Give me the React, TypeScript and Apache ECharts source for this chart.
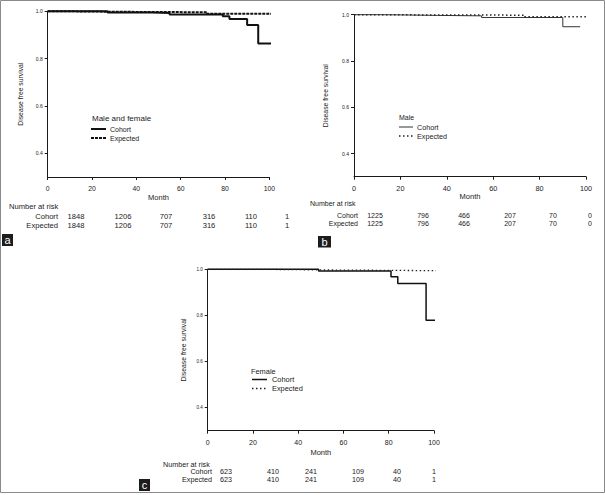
import React, { useEffect, useRef } from "react";
import * as echarts from "echarts";

// ---------- data ----------
const xTicks = [0, 20, 40, 60, 80, 100];
const yTicks = [0.4, 0.6, 0.8, 1.0];

const cohortA = [[0, 1], [27, 0.995], [47, 0.993], [55, 0.986], [79, 0.979], [82, 0.967], [90, 0.942], [95, 0.864], [101, 0.864]];
const expectedA = [[0, 1], [10, 0.998], [30, 0.997], [50, 0.996], [72, 0.99], [101, 0.99]];

const cohortB = [[0, 1], [10, 0.999], [21, 0.997], [36, 0.995], [55, 0.988], [90, 0.948], [97.5, 0.948]];
const expectedB = [[0, 1], [10, 0.999], [30, 0.998], [73, 0.991], [100, 0.991]];

const cohortC = [[0, 1], [49, 0.993], [81, 0.968], [84, 0.938], [96.5, 0.779], [102.5, 0.779]];
const expectedC = [[0, 1], [22, 0.997], [54, 0.994], [102.5, 0.994]];

const riskCohortA = [1848, 1206, 707, 316, 110, 1];
const riskExpectedA = [1848, 1206, 707, 316, 110, 1];
const riskCohortB = [1225, 796, 466, 207, 70, 0];
const riskExpectedB = [1225, 796, 466, 207, 70, 0];
const riskCohortC = [623, 410, 241, 109, 40, 1];
const riskExpectedC = [623, 410, 241, 109, 40, 1];

const legendTitles = ["Male and female", "Male", "Female"];
const panelLetters = ["a", "b", "c"];

// ---------- layout ----------
const FONT = "'Liberation Sans', Arial, Helvetica, sans-serif";
const INK = "#1a1a1a";

const panels = [
  {
    grid: { left: 47.7, top: 11.3, width: 221.6, height: 165.7 },
    cohort: cohortA, expected: expectedA,
    cohortStyle: { width: 2, type: "solid" as any, color: "#111" },
    expectedStyle: { width: 2, type: [3, 1], color: "#111" },
    yNameGap: 24, xNameGap: 16.5, xLabelSize: 6.8, yLabelSize: 5,
    legend: { x: 92, y: 118, lineX1: 91, lineX2: 106, textX: 110, dy1: 11, dy2: 20, titleSize: 8, size: 7 },
    risk: { titleX: 9, titleY: 206, row1: 216, row2: 225, labelRight: 58, cols: [76, 123, 166, 209, 251, 287], size: 7.6 },
    riskC: riskCohortA, riskE: riskExpectedA,
    box: { x: 2, y: 234, w: 11, h: 12 },
  },
  {
    grid: { left: 354, top: 14.7, width: 232, height: 162 },
    cohort: cohortB, expected: expectedB,
    cohortStyle: { width: 1, type: "solid" as any, color: "#333" },
    expectedStyle: { width: 1.5, type: [1.5, 2.5], color: "#222" },
    yNameGap: 25, xNameGap: 15, xLabelSize: 7.3, yLabelSize: 5,
    legend: { x: 399, y: 117, lineX1: 399, lineX2: 413, textX: 417, dy1: 10, dy2: 19, titleSize: 7, size: 7.2 },
    risk: { titleX: 310, titleY: 203, row1: 215, row2: 223, labelRight: 358, cols: [375, 423, 464, 510, 553, 590], size: 7 },
    riskC: riskCohortB, riskE: riskExpectedB,
    box: { x: 318, y: 236, w: 13, h: 11.5 },
  },
  {
    grid: { left: 207.7, top: 269.3, width: 226.3, height: 161.4 },
    cohort: cohortC, expected: expectedC,
    cohortStyle: { width: 1.5, type: "solid" as any, color: "#111" },
    expectedStyle: { width: 1.3, type: [1.5, 2.5], color: "#222" },
    yNameGap: 21, xNameGap: 18, xLabelSize: 7, yLabelSize: 4.5,
    legend: { x: 251, y: 371, lineX1: 252, lineX2: 267, textX: 272, dy1: 8.5, dy2: 17.5, titleSize: 7.4, size: 7.4 },
    risk: { titleX: 163, titleY: 464, row1: 471.5, row2: 479.5, labelRight: 212, cols: [226, 273, 311, 358, 397, 434], size: 7.2 },
    riskC: riskCohortC, riskE: riskExpectedC,
    box: { x: 139, y: 479, w: 11, h: 12 },
  },
];

function txt(text: string, x: number, y: number, size: number, align: string, extra: any = {}) {
  return {
    type: "text",
    x, y,
    silent: true,
    ...extra,
    style: {
      text, fill: extra.fill || INK, fontSize: size, fontFamily: FONT,
      align, verticalAlign: "middle", textAlign: align, textVerticalAlign: "middle",
    },
  };
}

export default function App() {
  const ref = useRef<HTMLDivElement>(null);
  useEffect(() => {
    if (!ref.current) return;
    const chart = echarts.init(ref.current, null, { renderer: "svg" });

    const grid: any[] = [];
    const xAxis: any[] = [];
    const yAxis: any[] = [];
    const series: any[] = [];
    const graphic: any[] = [];

    panels.forEach((p, i) => {
      grid.push({ ...p.grid, containLabel: false });
      xAxis.push({
        gridIndex: i, type: "value", min: 0, max: 100, interval: 20,
        axisLine: { show: true, onZero: false, lineStyle: { color: INK, width: 1 } },
        axisTick: { show: true, length: 3, lineStyle: { color: INK, width: 1 } },
        axisLabel: { fontSize: p.xLabelSize, color: INK, margin: 8, fontFamily: FONT },
        splitLine: { show: false },
        name: "Month", nameLocation: "middle", nameGap: p.xNameGap,
        nameTextStyle: { fontSize: 7.5, color: INK, fontFamily: FONT },
      });
      yAxis.push({
        gridIndex: i, type: "value", min: 0.3, max: 1.0,
        axisLine: { show: true, onZero: false, lineStyle: { color: INK, width: 1 } },
        axisTick: { show: true, length: 3, customValues: yTicks, lineStyle: { color: INK, width: 1 } },
        axisLabel: {
          customValues: yTicks, fontSize: p.yLabelSize, color: INK, margin: 5, fontFamily: FONT,
          formatter: (v: number) => v.toFixed(1),
        },
        splitLine: { show: false },
        name: "Disease free survival", nameLocation: "middle", nameGap: p.yNameGap, nameRotate: 90,
        nameTextStyle: { fontSize: 6.8, color: INK, fontFamily: FONT },
      });
      series.push({
        type: "line", name: "Cohort", xAxisIndex: i, yAxisIndex: i, data: p.cohort,
        step: "end", symbol: "none", clip: false, z: 3, lineStyle: p.cohortStyle,
      });
      series.push({
        type: "line", name: "Expected", xAxisIndex: i, yAxisIndex: i, data: p.expected,
        step: "end", symbol: "none", clip: false, z: 4, lineStyle: p.expectedStyle,
      });

      // legend
      const L = p.legend;
      graphic.push(txt(legendTitles[i], L.x, L.y, L.titleSize, "left"));
      graphic.push({
        type: "line", silent: true,
        shape: { x1: L.lineX1, y1: L.y + L.dy1, x2: L.lineX2, y2: L.y + L.dy1 },
        style: { stroke: p.cohortStyle.color, lineWidth: p.cohortStyle.width },
      });
      graphic.push(txt("Cohort", L.textX, L.y + L.dy1, L.size, "left"));
      graphic.push({
        type: "line", silent: true,
        shape: { x1: L.lineX1, y1: L.y + L.dy2, x2: L.lineX2, y2: L.y + L.dy2 },
        style: { stroke: p.expectedStyle.color, lineWidth: p.expectedStyle.width, lineDash: p.expectedStyle.type },
      });
      graphic.push(txt("Expected", L.textX, L.y + L.dy2, L.size, "left"));

      // risk table
      const R = p.risk;
      graphic.push(txt("Number at risk", R.titleX, R.titleY, R.size, "left"));
      graphic.push(txt("Cohort", R.labelRight, R.row1, R.size, "right"));
      graphic.push(txt("Expected", R.labelRight, R.row2, R.size, "right"));
      p.riskC.forEach((v, k) => graphic.push(txt(String(v), R.cols[k], R.row1, R.size, "center")));
      p.riskE.forEach((v, k) => graphic.push(txt(String(v), R.cols[k], R.row2, R.size, "center")));

      // panel letter
      const B = p.box;
      graphic.push({ type: "rect", silent: true, shape: { x: B.x, y: B.y, width: B.w, height: B.h }, style: { fill: "#1c1c1c" } });
      graphic.push(txt(panelLetters[i], B.x + B.w / 2, B.y + B.h / 2, 11, "center", { fill: "#ffffff" }));
    });

    // outer frame
    graphic.push({
      type: "rect", silent: true, z: 0,
      shape: { x: 0.5, y: 0.5, width: 604, height: 492 },
      style: { fill: "none", stroke: "#8a8a8a", lineWidth: 1 },
    });

    chart.setOption({
      animation: false,
      backgroundColor: "#ffffff",
      textStyle: { fontFamily: FONT },
      grid, xAxis, yAxis, series, graphic,
    });
    return () => chart.dispose();
  }, []);

  return (
    <div
      ref={ref}
      style={{ position: "fixed", left: 0, top: 0, width: 605, height: 495, background: "#fff" }}
    />
  );
}
